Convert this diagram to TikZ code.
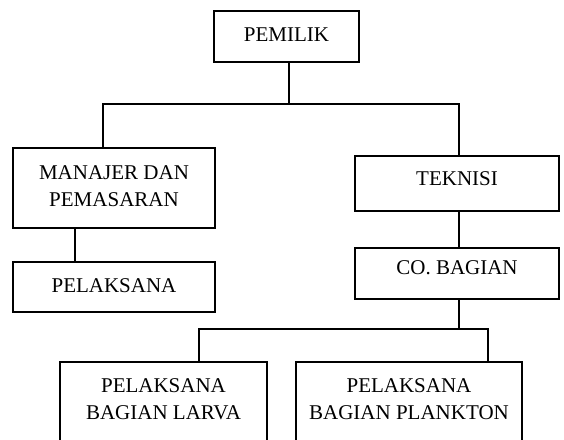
\documentclass[tikz,border=0pt]{standalone}
\usepackage{fontspec}
\setmainfont{Liberation Serif}
\begin{document}
\begin{tikzpicture}[x=1pt,y=-1pt,
  orgbox/.style={draw,line width=1.1pt,rectangle,inner sep=0pt,align=center,font=\fontsize{21}{27.5}\selectfont},
  conn/.style={line width=1.1pt}]
\useasboundingbox (0,0) rectangle (564,439);
\clip (0,0) rectangle (564,439);
\node[orgbox,minimum width=145,minimum height=51,text depth=4] (pemilik) at (286.5,36.5) {PEMILIK};
\node[orgbox,minimum width=202,minimum height=80,text depth=4] (manajer) at (114,188) {MANAJER DAN\\PEMASARAN};
\node[orgbox,minimum width=202,minimum height=50,text depth=3] (pelaksana) at (114,287) {PELAKSANA};
\node[orgbox,minimum width=204,minimum height=55,text depth=9] (teknisi) at (457,183.5) {TEKNISI};
\node[orgbox,minimum width=204,minimum height=51,text depth=12] (co) at (457,273.5) {CO. BAGIAN};
\node[orgbox,minimum width=207,minimum height=80,text depth=6] (larva) at (163.5,402) {PELAKSANA\\BAGIAN LARVA};
\node[orgbox,minimum width=226,minimum height=80,text depth=6] (plankton) at (409,402) {PELAKSANA\\BAGIAN PLANKTON};
\coordinate (jtop) at (289,104);
\coordinate (jl) at (103,104);
\coordinate (jr) at (459,104);
\coordinate (jm) at (75,228);
\coordinate (jc) at (459,329);
\coordinate (jbl) at (199,329);
\coordinate (jbr) at (488,329);
\draw[conn] (pemilik.south -| jtop) -- (jtop);
\draw[conn] (jl |- manajer.north) -- (jl) -- (jr) -- (jr |- teknisi.north);
\draw[conn] (jm |- manajer.south) -- (jm |- pelaksana.north);
\draw[conn] (jr |- teknisi.south) -- (jr |- co.north);
\draw[conn] (jc |- co.south) -- (jc);
\draw[conn] (jbl |- larva.north) -- (jbl) -- (jbr) -- (jbr |- plankton.north);
\end{tikzpicture}
\end{document}
